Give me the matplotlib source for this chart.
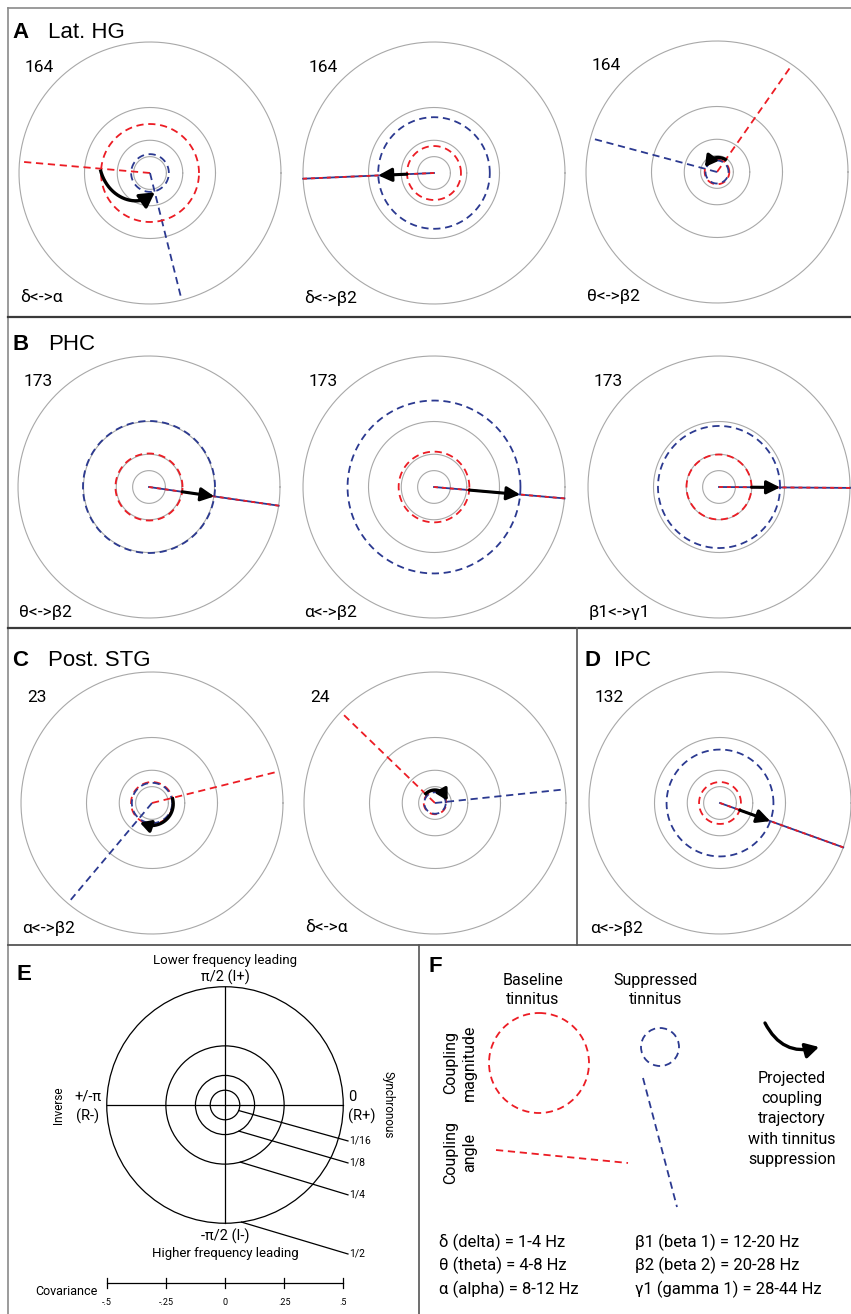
import numpy as np
import matplotlib.pyplot as plt
from matplotlib.lines import Line2D
from matplotlib.patches import Circle

plt.rcParams['font.family'] = ['Roboto', 'DejaVu Sans']

W, H = 851, 1314

# reference rings (covariance magnitude)
rings = [1 / 16, 1 / 8, 1 / 4, 1 / 2]
ring_labels = ['1/16', '1/8', '1/4', '1/2']

# nine coupling plots
n_values = ['164', '164', '164', '173', '173', '173', '23', '24', '132']
pair_labels = ['δ<->α', 'δ<->β2', 'θ<->β2', 'θ<->β2', 'α<->β2', 'β1<->γ1',
               'α<->β2', 'δ<->α', 'α<->β2']
base_mag = [0.187, 0.103, 0.047, 0.128, 0.135, 0.124, 0.080, 0.043, 0.080]
supp_mag = [0.072, 0.213, 0.044, 0.252, 0.330, 0.233, 0.077, 0.041, 0.204]
base_ang = [175, 182.5, 55, -8.2, -5, -0.4, 14, 136, -19.8]
supp_ang = [284, 182.5, 165, -8.2, -5, -0.4, -130, 6, -19.8]

# curved trajectory arrows (start angle, end angle, start r, end r); None = radial arrow
traj_arc = [(176, 284, 0.19, 0.076), None, (50, 158, 0.058, 0.050), None, None, None,
            (16, -122, 0.080, 0.088), (142, 10, 0.050, 0.049), None]

section_titles = [('A', 'Lat. HG', 12, 32), ('B', 'PHC', 12, 345), ('C', 'Post. STG', 12, 660),
                  ('D', 'IPC', 584, 660)]

# layout of polar plots (pixel centres), outer ring radius in px
centers = [(150, 173), (434, 173), (717, 172), (149, 487), (434, 487), (719, 487),
           (152, 803), (435, 803), (720, 803)]
R = 131

RED = '#ec1c24'
BLUE = '#2b3990'
GRAY = '#a8a8a8'

fig = plt.figure(figsize=(W / 100, H / 100), dpi=100)


def px_rect(x0, y0, x1, y1):
    return [x0 / W, 1 - y1 / H, (x1 - x0) / W, (y1 - y0) / H]


def fig_line(x0, y0, x1, y1, color, lw):
    fig.add_artist(Line2D([x0 / W, x1 / W], [1 - y0 / H, 1 - y1 / H],
                          transform=fig.transFigure, color=color, lw=lw))


def fig_text(x, y, s, **kw):
    fig.text(x / W, 1 - y / H, s, **kw)


def radial_arrow(ax, th, r0, r1):
    ax.annotate('', xy=(th, r1), xytext=(th, r0),
                arrowprops=dict(arrowstyle='-|>,head_length=0.8,head_width=0.4', color='k',
                                lw=2.2, shrinkA=0, shrinkB=0, mutation_scale=10),
                annotation_clip=False)


def arc_arrow(ax, th0, th1, r0, r1, ms):
    th = np.radians(np.linspace(th0, th1, 200))
    r = np.linspace(r0, r1, 200)
    # pixel length of each step, to leave room for the arrow head
    x, y = r * np.cos(th) * 2 * R, r * np.sin(th) * 2 * R
    seg = np.hypot(np.diff(x), np.diff(y))
    from_end = np.concatenate([np.cumsum(seg[::-1])[::-1], [0]])
    head_px = 0.8 * ms * 100 / 72
    k = np.nonzero(from_end >= head_px)[0][-1]
    ax.plot(th[:k + 1], r[:k + 1], color='k', lw=2.4, solid_capstyle='butt', clip_on=False)
    ax.annotate('', xy=(th[-1], r[-1]), xytext=(th[k], r[k]),
                arrowprops=dict(arrowstyle='-|>,head_length=0.8,head_width=0.45', color='k',
                                lw=2.4, shrinkA=0, shrinkB=0, mutation_scale=ms),
                annotation_clip=False)


circ = np.linspace(0, 2 * np.pi, 400)
for i, (cx, cy) in enumerate(centers):
    ax = fig.add_axes(px_rect(cx - R, cy - R, cx + R, cy + R), projection='polar')
    ax.set_ylim(0, 0.5)
    ax.set_axis_off()
    for r in rings:
        ax.plot(circ, np.full_like(circ, r), color=GRAY, lw=0.8, clip_on=False)
    tb, ts = np.radians(base_ang[i]), np.radians(supp_ang[i])
    if base_ang[i] == supp_ang[i]:
        ax.plot([tb, tb], [0, 0.5], color=BLUE, lw=1.3, clip_on=False)
        ax.plot([tb, tb], [0, 0.5], color=RED, lw=1.3, dashes=(2.2, 2.2), clip_on=False)
    else:
        ax.plot([tb, tb], [0, 0.5], color=RED, lw=1.3, dashes=(4, 2.6), clip_on=False)
        ax.plot([ts, ts], [0, 0.5], color=BLUE, lw=1.3, dashes=(4, 2.6), clip_on=False)
    ax.plot(circ, np.full_like(circ, base_mag[i]), color=RED, lw=1.3, dashes=(4, 2.6),
            clip_on=False)
    ax.plot(circ, np.full_like(circ, supp_mag[i]), color=BLUE, lw=1.3, dashes=(4, 2.6),
            clip_on=False)
    if traj_arc[i] is None:
        radial_arrow(ax, tb, base_mag[i], supp_mag[i])
    else:
        a0, a1, r0, r1 = traj_arc[i]
        arc_arrow(ax, a0, a1, r0, r1, 11 if r0 > 0.1 else 8)
    fig_text(cx - 125, cy - 106, n_values[i], fontsize=12.5, va='center', ha='left')
    fig_text(cx - 130, cy + 125, pair_labels[i], fontsize=12.5, va='center', ha='left')

for letter, name, x, y in section_titles:
    fig_text(x, y, letter, fontsize=16, fontweight='bold', family='Liberation Sans',
             va='center', ha='left')
    fig_text(x + 24 + (6 if letter == 'D' else 12), y, name, fontsize=16,
             family='Liberation Sans', va='center', ha='left')

# panel frames
fig_line(8, 8, 851, 8, '#8a8a8a', 1.2)
fig_line(8, 8, 8, 1314, '#8a8a8a', 1.2)
fig_line(8, 317, 851, 317, '#3a3a3a', 1.6)
fig_line(8, 628, 851, 628, '#3a3a3a', 1.6)
fig_line(8, 945, 851, 945, '#555555', 1.3)
fig_line(577, 628, 577, 945, '#555555', 1.2)
fig_line(419, 945, 419, 1314, '#555555', 1.2)

# ---- E: key to the polar plots ----
s, ecx, ecy = 236.5, 225, 1105
ax_e = fig.add_axes(px_rect(8, 945, 419, 1314))
ax_e.set_xlim((8 - ecx) / s, (419 - ecx) / s)
ax_e.set_ylim((ecy - 1314) / s, (ecy - 945) / s)
ax_e.set_axis_off()
for r in rings:
    ax_e.add_patch(Circle((0, 0), r, fill=False, ec='k', lw=0.9))
ax_e.plot([-0.5, 0.5], [0, 0], color='k', lw=0.9)
ax_e.plot([0, 0], [-0.5, 0.5], color='k', lw=0.9)
leader_ang = [-22, -62, -75, -82]
leader_end_y = [-0.152, -0.245, -0.38, -0.63]
for r, a, ey, lab in zip(rings, leader_ang, leader_end_y, ring_labels):
    ax_e.plot([r * np.cos(np.radians(a)), 0.52], [r * np.sin(np.radians(a)), ey],
              color='k', lw=0.9)
    ax_e.text(0.525, ey, lab, fontsize=7.5, va='center', ha='left')
ax_e.text(0, 0.613, 'Lower frequency leading', fontsize=9.5, ha='center', va='center')
ax_e.text(0, 0.54, 'π/2 (I+)', fontsize=10.5, ha='center', va='center')
ax_e.text(0, -0.555, '-π/2 (I-)', fontsize=10.5, ha='center', va='center')
ax_e.text(0, -0.63, 'Higher frequency leading', fontsize=9.5, ha='center', va='center')
ax_e.text(-0.58, 0.034, '+/-π', fontsize=10.5, ha='center', va='center')
ax_e.text(-0.58, -0.05, '(R-)', fontsize=10.5, ha='center', va='center')
ax_e.text(0.54, 0.034, '0', fontsize=10.5, ha='center', va='center')
ax_e.text(0.58, -0.05, '(R+)', fontsize=10.5, ha='center', va='center')
ax_e.text(-0.705, 0, 'Inverse', fontsize=8.5, rotation=90, ha='center', va='center')
ax_e.text(0.69, 0, 'Synchronous', fontsize=8.5, rotation=270, ha='center', va='center')

cov_ticks = [-0.5, -0.25, 0, 0.25, 0.5]
cov_tick_labels = ['-.5', '-.25', '0', '.25', '.5']
cy_bar = -0.753
ax_e.plot([cov_ticks[0], cov_ticks[-1]], [cy_bar, cy_bar], color='k', lw=0.9)
for t, lab in zip(cov_ticks, cov_tick_labels):
    ax_e.plot([t, t], [cy_bar - 0.022, cy_bar + 0.022], color='k', lw=0.9)
    ax_e.text(t, -0.835, lab, fontsize=6.5, ha='center', va='center')
ax_e.text(-0.672, -0.79, 'Covariance', fontsize=9, ha='center', va='center')
fig_text(17, 975, 'E', fontsize=16, fontweight='bold', family='Liberation Sans',
         va='center', ha='left')

# ---- F: legend ----
ax_f = fig.add_axes(px_rect(419, 945, 851, 1314))
ax_f.set_xlim(419, 851)
ax_f.set_ylim(1314, 945)
ax_f.set_axis_off()
ax_f.add_patch(Circle((539, 1063), 50, fill=False, ec=RED, lw=1.3, ls=(0, (4, 2.6))))
ax_f.add_patch(Circle((660, 1047), 19, fill=False, ec=BLUE, lw=1.3, ls=(0, (4, 2.6))))
ax_f.plot([496, 628], [1150, 1163], color=RED, lw=1.3, dashes=(4, 2.6))
ax_f.plot([643, 677], [1078, 1207], color=BLUE, lw=1.3, dashes=(4, 2.6))
ax_f.annotate('', xy=(819, 1047), xytext=(765, 1023),
              arrowprops=dict(arrowstyle='-|>,head_length=0.8,head_width=0.45', color='k',
                              lw=2.4, shrinkA=0, shrinkB=0, mutation_scale=10,
                              connectionstyle='arc3,rad=0.4'))
ax_f.text(533, 990, 'Baseline\ntinnitus', fontsize=11.5, ha='center', va='center',
          linespacing=1.35)
ax_f.text(656, 990, 'Suppressed\ntinnitus', fontsize=11.5, ha='center', va='center',
          linespacing=1.35)
ax_f.text(460, 1063, 'Coupling\nmagnitude', fontsize=11.5, rotation=90, ha='center',
          va='center', linespacing=1.3)
ax_f.text(460, 1153, 'Coupling\nangle', fontsize=11.5, rotation=90, ha='center',
          va='center', linespacing=1.3)
ax_f.text(792, 1119, 'Projected\ncoupling\ntrajectory\nwith tinnitus\nsuppression',
          fontsize=11.5, ha='center', va='center', linespacing=1.45)
band_left = ['δ (delta) = 1-4 Hz', 'θ (theta) = 4-8 Hz', 'α (alpha) = 8-12 Hz']
band_right = ['β1 (beta 1) = 12-20 Hz', 'β2 (beta 2) = 20-28 Hz', 'γ1 (gamma 1) = 28-44 Hz']
for j, (lt, rt) in enumerate(zip(band_left, band_right)):
    ax_f.text(439, 1242 + 23.5 * j, lt, fontsize=12, ha='left', va='center')
    ax_f.text(635, 1242 + 23.5 * j, rt, fontsize=12, ha='left', va='center')
fig_text(428, 967, 'F', fontsize=16, fontweight='bold', family='Liberation Sans',
         va='center', ha='left')

fig.savefig('out.png', dpi=100, facecolor='white')
